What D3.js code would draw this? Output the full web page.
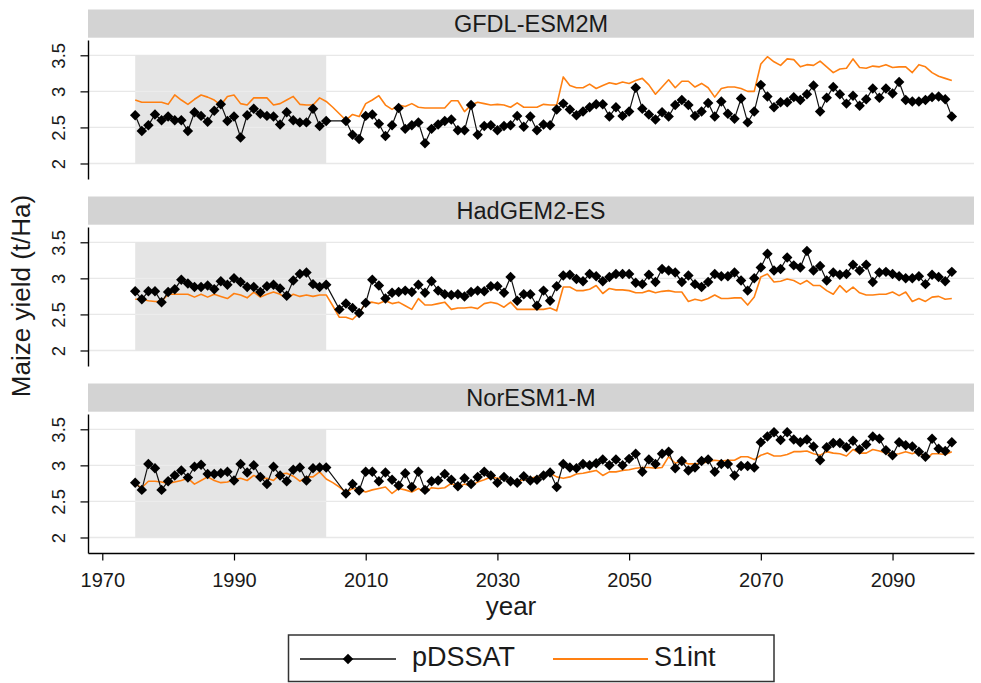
<!DOCTYPE html>
<html>
<head>
<meta charset="utf-8">
<script src="https://cdn.jsdelivr.net/npm/d3@7"></script>
<style>
  html, body { margin: 0; padding: 0; background: #fff; }
  svg { display: block; font-family: "Liberation Sans", Arial, sans-serif; }
</style>
</head>
<body>
<svg id="chart" width="981" height="683"></svg>
<script>
// Simulation years (one value per year, null = no value for that year)
const firstYear = 1975;
const lastYear = 2099;
const years = d3.range(firstYear, lastYear + 1);

// Baseline period shaded in every panel
const baselinePeriod = [1975, 2004];

const models = ["GFDL-ESM2M", "HadGEM2-ES", "NorESM1-M"];
const seriesNames = ["pDSSAT", "S1int"];

const xTickValues = [1970, 1990, 2010, 2030, 2050, 2070, 2090];
const yTickValues = [2, 2.5, 3, 3.5];

// ---- GFDL-ESM2M ----
const gfdlDssat = [
  2.67, 2.45, 2.53, 2.68, 2.60, 2.65, 2.60, 2.60, 2.45, 2.71,
  2.66, 2.58, 2.73, 2.82, 2.59, 2.65, 2.36, 2.67, 2.76, 2.69,
  2.66, 2.65, 2.54, 2.71, 2.60, 2.57, 2.57, 2.76, 2.52, 2.59,
  null, null, 2.59, 2.40, 2.34, 2.66, 2.68, 2.55, 2.38, 2.53,
  2.77, 2.48, 2.53, 2.57, 2.28, 2.48, 2.54, 2.59, 2.61, 2.46,
  2.46, 2.81, 2.40, 2.52, 2.53, 2.46, 2.52, 2.53, 2.66, 2.51,
  2.65, 2.46, 2.54, 2.53, 2.75, 2.83, 2.75, 2.67, 2.72, 2.78,
  2.82, 2.82, 2.65, 2.78, 2.66, 2.72, 3.05, 2.76, 2.68, 2.61,
  2.71, 2.65, 2.81, 2.88, 2.81, 2.66, 2.72, 2.84, 2.65, 2.86,
  2.69, 2.62, 2.90, 2.57, 2.72, 3.09, 2.93, 2.78, 2.85, 2.85,
  2.92, 2.88, 2.96, 3.08, 2.72, 2.91, 3.06, 2.96, 2.83, 2.94,
  2.80, 2.89, 3.04, 2.91, 3.04, 2.97, 3.13, 2.88, 2.86, 2.86,
  2.88, 2.92, 2.93, 2.89, 2.65
];
const gfdlS1int = [
  2.88, 2.85, 2.85, 2.85, 2.85, 2.82, 2.95, 2.88, 2.82, 2.89,
  2.95, 2.92, 2.88, 2.81, 2.93, 2.95, 2.83, 2.81, 2.91, 2.91,
  2.91, 2.81, 2.83, 2.88, 2.93, 2.82, 2.81, 2.81, 2.91, 2.86,
  2.78, 2.69, 2.60, 2.68, 2.65, 2.83, 2.88, 2.94, 2.81, 2.75,
  2.81, 2.79, 2.83, 2.78, 2.77, 2.77, 2.77, 2.77, 2.87, 2.87,
  2.72, 2.81, 2.85, 2.83, 2.81, 2.82, 2.81, 2.78, 2.84, 2.78,
  2.78, 2.78, 2.82, 2.81, 2.81, 3.20, 3.08, 3.05, 3.05, 3.10,
  3.04, 3.08, 3.12, 3.10, 3.13, 3.11, 3.15, 3.18, 3.09, 2.96,
  3.06, 3.16, 3.05, 3.14, 3.14, 3.06, 3.11, 3.05, 2.92, 3.04,
  3.06, 3.06, 3.04, 3.00, 3.00, 3.38, 3.48, 3.41, 3.36, 3.45,
  3.44, 3.34, 3.37, 3.36, 3.42, 3.34, 3.26, 3.31, 3.32, 3.45,
  3.33, 3.32, 3.35, 3.34, 3.37, 3.33, 3.34, 3.34, 3.26, 3.37,
  3.34, 3.26, 3.21, 3.18, 3.15
];

// ---- HadGEM2-ES ----
const hadgemDssat = [
  2.82, 2.71, 2.82, 2.82, 2.67, 2.81, 2.85, 2.98, 2.93, 2.88,
  2.88, 2.90, 2.85, 2.96, 2.91, 3.00, 2.95, 2.88, 2.88, 2.81,
  2.89, 2.91, 2.86, 2.76, 2.97, 3.06, 3.08, 2.92, 2.88, 2.91,
  null, 2.57, 2.65, 2.59, 2.52, 2.66, 2.98, 2.90, 2.72, 2.80,
  2.81, 2.83, 2.81, 2.91, 2.80, 2.96, 2.83, 2.78, 2.77, 2.78,
  2.75, 2.81, 2.83, 2.82, 2.89, 2.89, 2.80, 3.02, 2.69, 2.78,
  2.78, 2.62, 2.83, 2.69, 2.89, 3.04, 3.05, 2.99, 2.96, 3.06,
  3.03, 2.96, 3.02, 3.06, 3.06, 3.06, 2.94, 2.92, 3.05, 2.95,
  3.13, 3.11, 3.08, 2.95, 3.04, 2.92, 2.88, 2.95, 3.06, 3.03,
  3.03, 3.08, 2.97, 2.83, 3.00, 3.15, 3.34, 3.11, 3.13, 3.29,
  3.18, 3.15, 3.38, 3.11, 3.17, 2.97, 3.08, 3.05, 3.06, 3.19,
  3.11, 3.19, 2.95, 3.08, 3.09, 3.06, 3.03, 3.00, 3.00, 3.03,
  2.92, 3.05, 3.02, 2.96, 3.09
];
const hadgemS1int = [
  2.71, 2.71, 2.69, 2.68, 2.68, 2.78, 2.78, 2.78, 2.78, 2.74,
  2.78, 2.74, 2.78, 2.75, 2.72, 2.79, 2.77, 2.73, 2.81, 2.74,
  2.78, 2.81, 2.78, 2.72, 2.78, 2.75, 2.77, 2.75, 2.77, 2.77,
  2.62, 2.46, 2.46, 2.43, 2.52, 2.66, 2.67, 2.65, 2.69, 2.65,
  2.67, 2.62, 2.57, 2.72, 2.63, 2.63, 2.65, 2.67, 2.57, 2.59,
  2.59, 2.60, 2.58, 2.65, 2.67, 2.65, 2.60, 2.67, 2.57, 2.57,
  2.57, 2.57, 2.57, 2.59, 2.55, 2.88, 2.88, 2.83, 2.83, 2.85,
  2.90, 2.79, 2.86, 2.84, 2.84, 2.83, 2.80, 2.80, 2.83, 2.80,
  2.82, 2.83, 2.81, 2.81, 2.68, 2.71, 2.69, 2.72, 2.77, 2.72,
  2.72, 2.73, 2.73, 2.63, 2.74, 3.02, 3.06, 2.95, 2.96, 2.99,
  2.97, 2.92, 2.97, 2.90, 2.90, 2.83, 2.78, 2.90, 2.81, 2.88,
  2.80, 2.77, 2.77, 2.78, 2.78, 2.81, 2.76, 2.81, 2.68, 2.72,
  2.68, 2.74, 2.75, 2.71, 2.72
];

// ---- NorESM1-M ----
const noresmDssat = [
  2.76, 2.66, 3.02, 2.96, 2.66, 2.78, 2.86, 2.93, 2.83, 2.98,
  3.01, 2.88, 2.88, 2.89, 2.91, 2.79, 3.02, 2.90, 3.00, 2.84,
  2.74, 2.98, 2.86, 2.78, 2.94, 2.97, 2.79, 2.96, 2.97, 2.97,
  null, null, 2.61, 2.74, 2.65, 2.91, 2.91, 2.78, 2.90, 2.80,
  2.72, 2.89, 2.70, 2.91, 2.66, 2.78, 2.79, 2.88, 2.80, 2.71,
  2.82, 2.74, 2.84, 2.91, 2.86, 2.76, 2.84, 2.78, 2.76, 2.85,
  2.79, 2.80, 2.86, 2.90, 2.70, 3.02, 2.97, 2.96, 3.02, 3.00,
  3.03, 3.08, 3.00, 3.08, 3.00, 3.09, 3.16, 2.91, 3.08, 3.02,
  3.16, 3.19, 2.96, 3.06, 2.93, 2.97, 3.06, 3.08, 2.91, 3.02,
  3.02, 2.86, 2.99, 2.99, 2.97, 3.32, 3.40, 3.46, 3.35, 3.46,
  3.36, 3.32, 3.36, 3.26, 3.07, 3.25, 3.31, 3.31, 3.25, 3.34,
  3.22, 3.29, 3.40, 3.37, 3.21, 3.14, 3.32, 3.28, 3.26, 3.19,
  3.12, 3.37, 3.23, 3.20, 3.32
];
const noresmS1int = [
  2.74, 2.69, 2.78, 2.78, 2.77, 2.75, 2.77, 2.79, 2.82, 2.74,
  2.79, 2.84, 2.79, 2.76, 2.77, 2.80, 2.82, 2.79, 2.86, 2.82,
  2.82, 2.79, 2.88, 2.89, 2.85, 2.78, 2.84, 2.84, 2.91, 2.81,
  2.76, 2.70, 2.63, 2.68, 2.66, 2.63, 2.66, 2.68, 2.70, 2.61,
  2.68, 2.66, 2.63, 2.68, 2.62, 2.69, 2.68, 2.69, 2.75, 2.70,
  2.74, 2.71, 2.77, 2.80, 2.84, 2.82, 2.82, 2.79, 2.78, 2.80,
  2.82, 2.84, 2.85, 2.89, 2.84, 2.82, 2.84, 2.88, 2.89, 2.91,
  2.93, 2.86, 2.91, 2.91, 2.93, 2.94, 2.96, 2.97, 2.97, 2.96,
  2.97, 3.12, 3.03, 3.06, 3.02, 3.02, 3.03, 3.05, 3.07, 3.06,
  3.07, 3.07, 3.12, 3.12, 3.08, 3.14, 3.17, 3.13, 3.13, 3.15,
  3.19, 3.19, 3.20, 3.16, 3.14, 3.19, 3.17, 3.16, 3.13, 3.22,
  3.17, 3.17, 3.22, 3.20, 3.17, 3.15, 3.16, 3.19, 3.16, 3.20,
  3.08, 3.16, 3.16, 3.15, 3.19
];

const dssatByModel = [gfdlDssat, hadgemDssat, noresmDssat];
const s1intByModel = [gfdlS1int, hadgemS1int, noresmS1int];

// ---------------------------------------------------------------
const svg = d3.select("#chart");
const FONT = '"Liberation Sans", Arial, sans-serif';
const textColor = "#1a1a1a";
const orange = "#ff8012";

const plotLeft = 88, plotRight = 974;
const panelStep = 187;
const stripTop = 9.5, stripHeight = 28.2;
const plotTop = 40, plotBottom = 179;

const x = d3.scaleLinear()
  .domain([1967.83, 2102.37])
  .range([plotLeft, plotRight]);

const pairs = values => years.map((yr, i) => ({ year: yr, value: values[i] }))
  .filter(d => d.value !== null);

const diamond = d3.symbol().type(d3.symbolDiamond2).size(70);

models.forEach((model, p) => {
  const off = p * panelStep;
  const g = svg.append("g").attr("class", "panel");

  const y = d3.scaleLinear()
    .domain([1.785, 3.712])
    .range([plotBottom + off, plotTop + off]);

  // strip header
  g.append("rect")
    .attr("x", plotLeft).attr("y", stripTop + off)
    .attr("width", plotRight - plotLeft).attr("height", stripHeight)
    .attr("fill", "#d3d3d3");
  g.append("text")
    .attr("x", (plotLeft + plotRight) / 2)
    .attr("y", stripTop + off + stripHeight / 2)
    .attr("dy", "0.36em")
    .attr("text-anchor", "middle")
    .attr("font-size", 23.5)
    .attr("fill", textColor)
    .text(model);

  // grid lines
  g.append("g").selectAll("line").data(yTickValues).join("line")
    .attr("x1", plotLeft).attr("x2", plotRight)
    .attr("y1", d => y(d)).attr("y2", d => y(d))
    .attr("stroke", "#e8e8e8").attr("stroke-width", 1.3);

  // baseline period shading
  g.append("rect")
    .attr("x", x(baselinePeriod[0]))
    .attr("y", y(3.5))
    .attr("width", x(baselinePeriod[1]) - x(baselinePeriod[0]))
    .attr("height", y(2) - y(3.5))
    .attr("fill", "#e5e5e5");
  g.append("g").selectAll("line").data(yTickValues.filter(v => v > 2 && v < 3.5)).join("line")
    .attr("x1", x(baselinePeriod[0])).attr("x2", x(baselinePeriod[1]))
    .attr("y1", d => y(d)).attr("y2", d => y(d))
    .attr("stroke", "#ececec").attr("stroke-width", 1.3);

  // y axis
  const yAxis = g.append("g")
    .attr("transform", `translate(${plotLeft},0)`)
    .call(d3.axisLeft(y).tickValues(yTickValues).tickSize(7.5).tickSizeOuter(0)
      .tickFormat(d3.format("")));
  yAxis.select(".domain").attr("stroke", "#000").attr("stroke-width", 1.4);
  yAxis.selectAll(".tick line").attr("stroke", "#000").attr("stroke-width", 1.2);
  yAxis.selectAll(".tick text")
    .attr("x", null).attr("dy", null)
    .attr("transform", "translate(-23,0) rotate(-90)")
    .attr("text-anchor", "middle")
    .attr("font-family", FONT)
    .attr("font-size", 18.5)
    .attr("fill", textColor);

  // S1int line
  const line = d3.line().x(d => x(d.year)).y(d => y(d.value));
  g.append("path")
    .datum(pairs(s1intByModel[p]))
    .attr("d", line)
    .attr("fill", "none")
    .attr("stroke", orange)
    .attr("stroke-width", 1.6)
    .attr("stroke-linejoin", "round");

  // pDSSAT connected line with diamonds
  const dssat = pairs(dssatByModel[p]);
  g.append("path")
    .datum(dssat)
    .attr("d", line)
    .attr("fill", "none")
    .attr("stroke", "#111")
    .attr("stroke-width", 1.2);
  g.append("g").selectAll("path").data(dssat).join("path")
    .attr("transform", d => `translate(${x(d.year)},${y(d.value)})`)
    .attr("d", diamond)
    .attr("fill", "#000");

  // x axis on the bottom panel only
  if (p === models.length - 1) {
    const xAxis = g.append("g")
      .attr("transform", `translate(0,${plotBottom + off})`)
      .call(d3.axisBottom(x).tickValues(xTickValues).tickSize(7.5).tickSizeOuter(0)
        .tickFormat(d3.format("d")));
    xAxis.select(".domain").attr("stroke", "#000").attr("stroke-width", 1.4);
    xAxis.selectAll(".tick line").attr("stroke", "#000").attr("stroke-width", 1.2);
    xAxis.selectAll(".tick text")
      .attr("y", 34).attr("dy", null)
      .attr("font-family", FONT)
      .attr("font-size", 20)
      .attr("fill", textColor);
  }
});

// axis titles
svg.append("text")
  .attr("transform", "translate(30,296) rotate(-90)")
  .attr("text-anchor", "middle")
  .attr("font-size", 26)
  .attr("fill", textColor)
  .text("Maize yield (t/Ha)");
svg.append("text")
  .attr("x", 511).attr("y", 615)
  .attr("text-anchor", "middle")
  .attr("font-size", 26)
  .attr("fill", textColor)
  .text("year");

// legend
const legend = svg.append("g");
legend.append("rect")
  .attr("x", 288.5).attr("y", 635).attr("width", 485.5).attr("height", 46.5)
  .attr("fill", "#fff").attr("stroke", "#333").attr("stroke-width", 1.5);
const legY = 659;
legend.append("line")
  .attr("x1", 300).attr("x2", 396).attr("y1", legY).attr("y2", legY)
  .attr("stroke", "#111").attr("stroke-width", 1.6);
legend.append("path")
  .attr("transform", `translate(348,${legY})`)
  .attr("d", diamond)
  .attr("fill", "#000");
legend.append("text")
  .attr("x", 412).attr("y", legY).attr("dy", "0.27em")
  .attr("font-size", 27).attr("fill", textColor)
  .text(seriesNames[0]);
legend.append("line")
  .attr("x1", 553).attr("x2", 648).attr("y1", legY).attr("y2", legY)
  .attr("stroke", orange).attr("stroke-width", 1.8);
legend.append("text")
  .attr("x", 654).attr("y", legY).attr("dy", "0.27em")
  .attr("font-size", 27).attr("fill", textColor)
  .text(seriesNames[1]);
</script>
</body>
</html>
